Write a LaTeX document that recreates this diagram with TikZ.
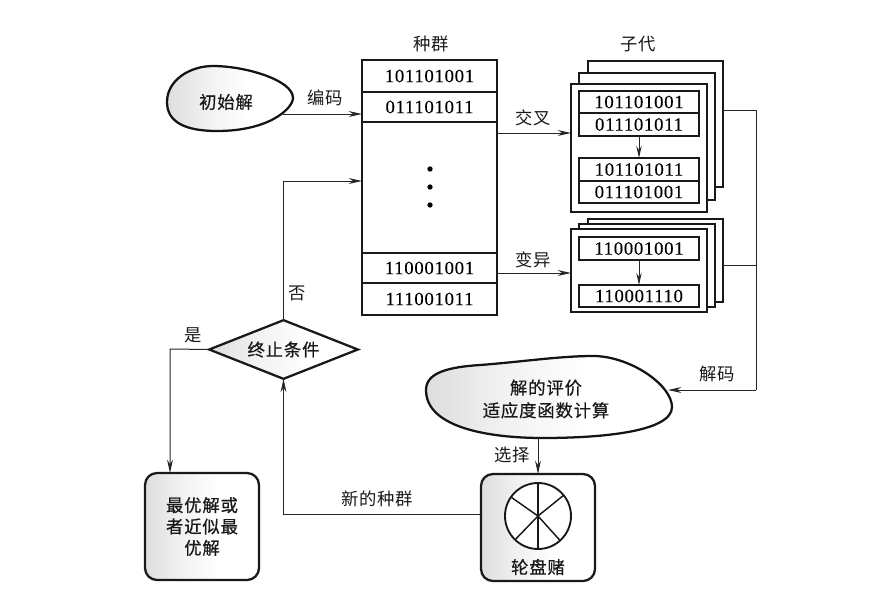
\documentclass[tikz,border=0pt]{standalone}
\usepackage{fontspec}
\setmainfont[LetterSpace=4,FakeBold=0.15]{Liberation Serif}
\newfontfamily\cjk[LetterSpace=5]{Noto Sans CJK SC}
\newfontfamily\cjkstrong[LetterSpace=5,FakeBold=0.6]{Noto Sans CJK SC}
\usetikzlibrary{arrows.meta,shapes.geometric,calc}
\pgfdeclarehorizontalshading{leftfade}{100bp}{color(0bp)=(black!15); color(25bp)=(black!13); color(42bp)=(black!5); color(58bp)=(white); color(100bp)=(white)}
\newcommand{\pxbox}[7][]{% style, name, x1,y1,x2,y2, text
  \node[inner sep=0pt,outer sep=0pt,minimum width={0.75pt*(#5-#3)},minimum height={0.75pt*(#6-#4)},#1] (#2) at ({(#3+#5)/2},{(#4+#6)/2}) {#7};}
\tikzset{
  x=0.75pt,y=-0.75pt,
  heavy/.style={draw=black!90,line width=1.7pt,fill=white,line join=miter},
  bits/.style={heavy,font=\fontsize{14}{15}\selectfont},
  conn/.style={draw=black!85,line width=0.75pt},
  arrowed/.style={conn,-{Stealth[length=10pt,width=4.4pt]}},
  smallarrow/.style={conn,-{Stealth[length=9pt,width=4pt]}},
  fadefill/.style={shading=leftfade},
  label/.style={font=\cjk\fontsize{13}{16}\selectfont,text=black!90,inner sep=0pt},
  inshape/.style={font=\cjkstrong\fontsize{13}{16}\selectfont,text=black!90},
  strongbox/.style={draw=black!90,line width=1.7pt,rounded corners=9pt,fadefill},
  blobline/.style={draw=black!92,line width=1.7pt,fadefill},
}
\begin{document}
\begin{tikzpicture}
\useasboundingbox (0,0) rectangle (893,604);
% start blob
\path[blobline] (167,102) .. controls (167,80) and (190,66) .. (213,66) .. controls (245,66) and (293,80) .. (293,98) .. controls (293,108) and (270,131) .. (217,131) .. controls (185,131) and (167,122) .. (167,102) -- cycle;
\node[label,inshape] (seed) at (226,102) {初始解};
\coordinate (seedout) at (283,114);
% population
\pxbox[heavy]{pop}{362}{60}{497}{315}{}
\pxbox[bits]{p1}{362}{60}{497}{92}{101101001}
\pxbox[bits]{p2}{362}{92}{497}{122}{011101011}
\pxbox[bits]{p3}{362}{253}{497}{283}{110001001}
\pxbox[bits]{p4}{362}{283}{497}{315}{111001011}
\node[circle,fill=black,inner sep=0pt,minimum size=4pt] (d1) at (430,169) {};
\node[circle,fill=black,inner sep=0pt,minimum size=4pt] (d2) at (430,187) {};
\node[circle,fill=black,inner sep=0pt,minimum size=4pt] (d3) at (430,205) {};
\node[label] (popt) at (431,44) {种群};
\node[label] (kidt) at (638,44) {子代};
% upper offspring stack
\pxbox[heavy]{ua}{588}{61}{723}{187}{}
\pxbox[heavy]{ub}{579}{73}{715}{200}{}
\pxbox[heavy]{uc}{571}{84}{707}{212}{}
\pxbox[bits]{u1}{579}{91}{699}{113}{101101001}
\pxbox[bits]{u2}{579}{113}{699}{136}{011101011}
\pxbox[bits]{u3}{579}{158}{699}{181}{101101011}
\pxbox[bits]{u4}{579}{181}{699}{203}{011101001}
\draw[smallarrow] (u2.south) -- (u3.north);
% lower offspring stack
\pxbox[heavy]{la}{588}{219}{723}{302}{}
\pxbox[heavy]{lb}{579}{224}{715}{307}{}
\pxbox[heavy]{lc}{571}{229}{707}{312}{}
\pxbox[bits]{l1}{579}{237}{699}{260}{110001001}
\pxbox[bits]{l2}{579}{285}{699}{307}{110001110}
\draw[smallarrow] (l1.south) -- (l2.north);
% evaluation blob
\path[blobline] (426,390) .. controls (426,372) and (450,367) .. (480,365) .. controls (520,362) and (560,356) .. (593,356) .. controls (630,356) and (672,385) .. (672,407) .. controls (672,432) and (600,438) .. (543,438) .. controls (490,438) and (426,428) .. (426,390) -- cycle;
\node[label,align=center,font=\cjkstrong\fontsize{13}{17}\selectfont] (eval) at (546,399) {解的评价\\适应度函数计算};
\coordinate (evalin) at (668,390);
\coordinate (evalout) at (538,438);
% roulette
\pxbox[strongbox]{rou}{481}{474}{595}{581}{}
\node[circle,draw=black!90,line width=1.4pt,fill=white,inner sep=0pt,outer sep=0pt,minimum size=49.5pt] (wheel) at (538,516) {};
\foreach \a in {90,270,39,145,226,312} \draw[black!90,line width=1.1pt] (wheel.center) -- (wheel.\a);
\node[label,inshape] (rout) at (538,567) {轮盘赌};
% decision
\node[diamond,draw=black!90,line width=1.7pt,fadefill,inner sep=0pt,outer sep=0pt,minimum width=111.5pt,minimum height=44pt,aspect=2.5,inshape] (dec) at (283.5,349.5) {终止条件};
% result box
\pxbox[strongbox,align=center,inshape]{res}{145}{473}{259}{580}{最优解或\\者近似最\\优解}
% connectors
\draw[arrowed] (seedout) -- (seedout -| pop.west);
\coordinate (cross) at (497,133);
\coordinate (mut) at (497,273);
\draw[arrowed] (cross) -- (cross -| uc.west);
\draw[arrowed] (mut) -- (mut -| lc.west);
\coordinate (ur) at (723,110.5);
\coordinate (lr) at (723,265);
\coordinate (busx) at (756,390);
\draw[conn] (ur) -- (ur -| busx) -- (busx);
\draw[conn] (lr) -- (lr -| busx);
\draw[arrowed] (busx) -- (evalin);
\draw[arrowed] (evalout) -- (evalout |- rou.north);
\draw[arrowed] (rou.west |- 0,514) -- (dec.south |- 0,514) -- (dec.south);
\coordinate (backin) at (362,181);
\draw[arrowed] (dec.north) -- (dec.north |- backin) -- (backin);
\coordinate (yesx) at (170,349);
\draw[arrowed] (dec.west) -- (yesx) -- (yesx |- res.north);
% labels
\node[label] (t1) at (325,98) {编码};
\node[label] (t2) at (533,118) {交叉};
\node[label] (t3) at (533,260) {变异};
\node[label] (t4) at (717,374) {解码};
\node[label] (t5) at (512,455) {选择};
\node[label] (t6) at (377,499) {新的种群};
\node[label] (t7) at (297,293) {否};
\node[label] (t8) at (193,335) {是};
\end{tikzpicture}
\end{document}
